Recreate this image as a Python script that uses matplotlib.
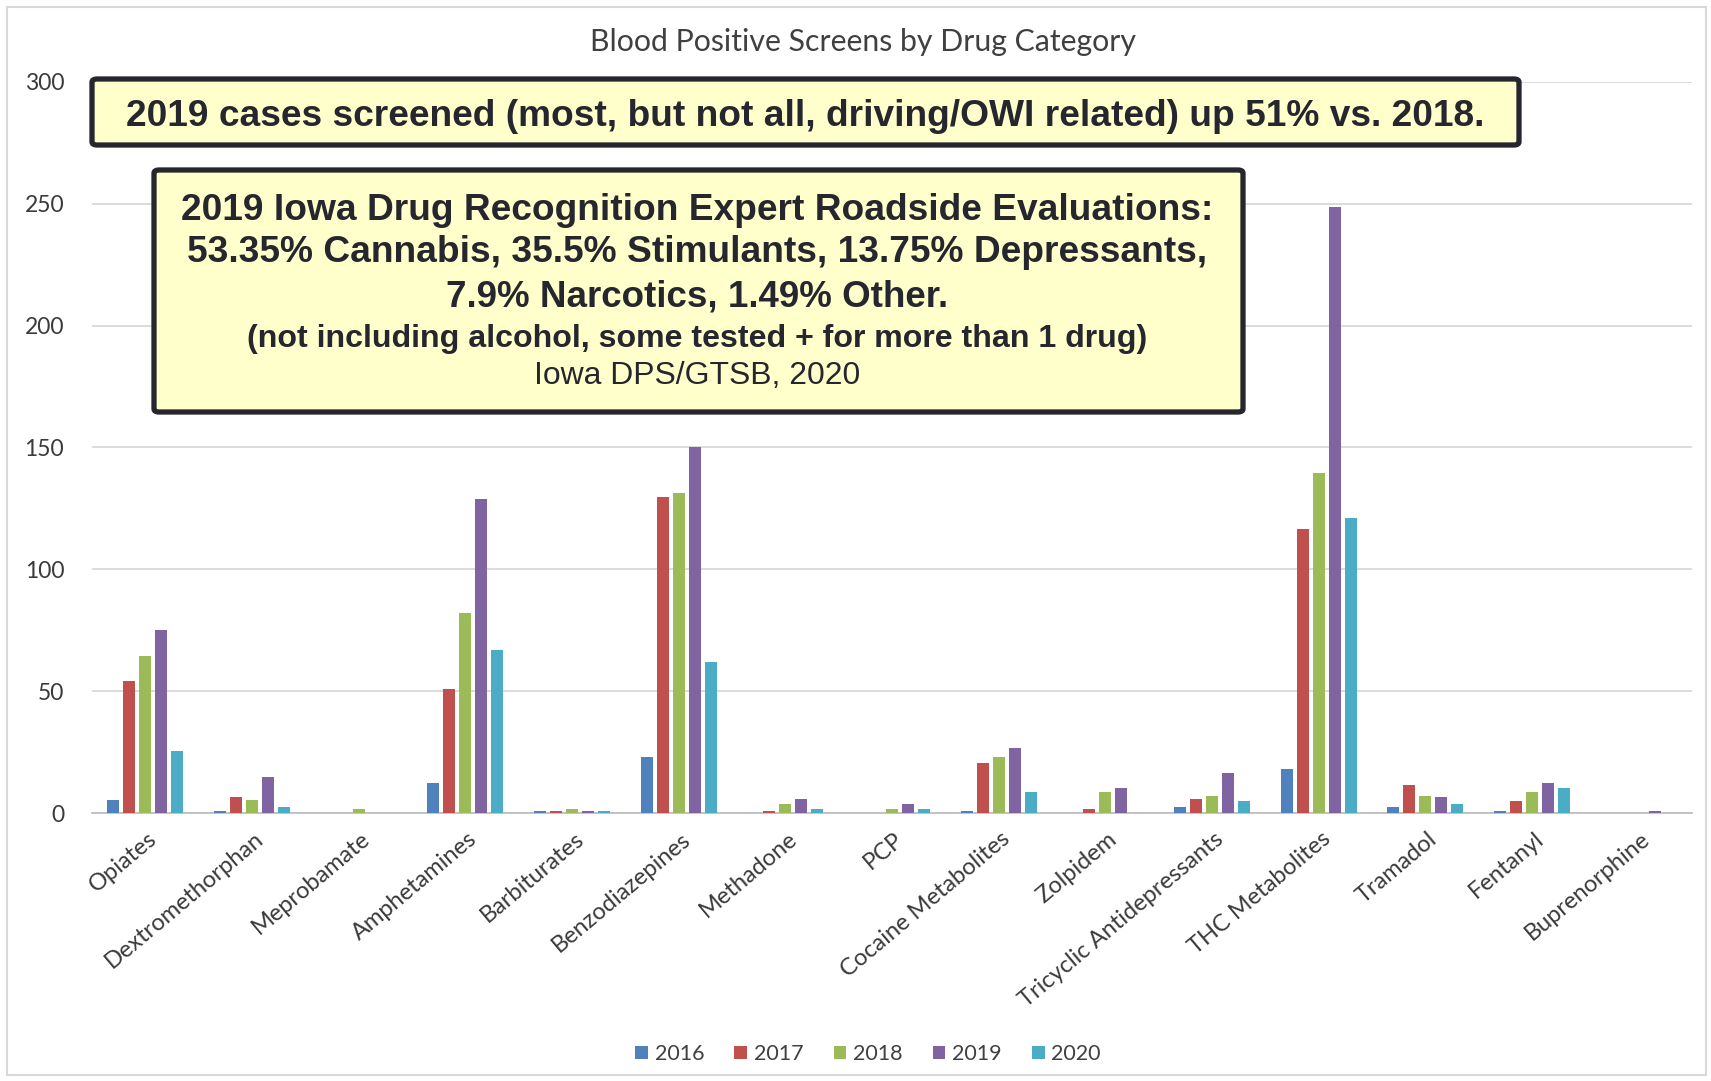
import matplotlib
matplotlib.use("Agg")
import matplotlib.pyplot as plt
from matplotlib.patches import FancyBboxPatch, Rectangle
import numpy as np

categories = ["Opiates", "Dextromethorphan", "Meprobamate", "Amphetamines", "Barbiturates",
              "Benzodiazepines", "Methadone", "PCP", "Cocaine Metabolites", "Zolpidem",
              "Tricyclic Antidepressants", "THC Metabolites", "Tramadol", "Fentanyl", "Buprenorphine"]
years = ["2016", "2017", "2018", "2019", "2020"]
v2016 = [5.3, 1, 0, 12.4, 1, 23, 0, 0, 1, 0, 2.3, 18, 2.3, 1, 0]
v2017 = [54, 6.7, 0, 51, 1, 129.5, 1, 0, 20.4, 1.5, 5.6, 116.5, 11.5, 5, 0]
v2018 = [64.5, 5.2, 1.5, 82, 1.5, 131.5, 3.7, 1.5, 23.1, 8.7, 7.1, 139.5, 7.1, 8.7, 0]
v2019 = [75, 14.9, 0, 129, 1, 150, 5.6, 3.7, 26.5, 10.1, 16.5, 248.5, 6.4, 12.2, 1]
v2020 = [25.3, 2.3, 0, 67, 1, 62, 1.5, 1.5, 8.7, 0, 5, 121, 3.8, 10.1, 0]
series = [v2016, v2017, v2018, v2019, v2020]
colors = ["#4F81BD", "#C0504D", "#9BBB59", "#8064A2", "#4BACC6"]
yticks = [0, 50, 100, 150, 200, 250, 300]

title = "Blood Positive Screens by Drug Category"
box1_text = "2019 cases screened (most, but not all, driving/OWI related) up 51% vs. 2018."
box2_lines = ["2019 Iowa Drug Recognition Expert Roadside Evaluations:",
              "53.35% Cannabis, 35.5% Stimulants, 13.75% Depressants,",
              "7.9% Narcotics, 1.49% Other.",
              "(not including alcohol, some tested + for more than 1 drug)",
              "Iowa DPS/GTSB, 2020"]

W, H = 1711, 1081
fig = plt.figure(figsize=(W / 100, H / 100), dpi=100)
fig.patch.set_facecolor("white")

def fx(x):
    return x / W

def fy(y):
    return 1 - y / H

ax_l, ax_r, ax_t, ax_b = 92, 1692, 82, 813
ax = fig.add_axes([fx(ax_l), fy(ax_b), fx(ax_r - ax_l), (ax_b - ax_t) / H])

x = np.arange(len(categories))
pitch = 0.15
bw = 0.115
for i, (vals, c, yr) in enumerate(zip(series, colors, years)):
    ax.bar(x + (i - 2) * pitch, vals, width=bw, color=c, label=yr, zorder=3)

ax.set_xlim(-0.5, len(categories) - 0.5)
ax.set_ylim(0, 300)
ax.set_yticks(yticks)
ax.yaxis.grid(True, color="#D9D9D9", linewidth=1.3, zorder=0)
ax.set_axisbelow(True)
for s in ["left", "right", "top"]:
    ax.spines[s].set_visible(False)
ax.spines["bottom"].set_color("#BFBFBF")
ax.spines["bottom"].set_linewidth(1.3)
ax.tick_params(axis="y", length=0, pad=20, labelsize=16.5, labelcolor="#3A3A3A")
ax.tick_params(axis="x", length=0, pad=11, labelsize=17, labelcolor="#3A3A3A")
for lab in ax.get_yticklabels():
    lab.set_fontfamily("Lato")
ax.set_xticks(x + 0.02)
ax.set_xticklabels(categories, rotation=40, ha="right", rotation_mode="anchor", family="Lato")
ax.set_facecolor("white")

# chart frame
fig.patches.append(Rectangle((fx(7), fy(1075)), fx(1706 - 7), (1075 - 7) / H,
                             transform=fig.transFigure, fill=False, edgecolor="#D9D9D9",
                             linewidth=1.5, zorder=0))

renderer = fig.canvas.get_renderer()

def fit(t, target_w):
    for _ in range(4):
        bb = t.get_window_extent(renderer)
        t.set_fontsize(t.get_fontsize() * target_w / bb.width)

# title
tt = fig.text(fx(863), fy(42), title, ha="center", va="center", color="#404040",
              family="Lato", fontsize=16)
fit(tt, 547)

def box(x0, y0, x1, y1):
    p = FancyBboxPatch((fx(x0), fy(y1)), fx(x1 - x0), (y1 - y0) / H,
                       boxstyle="round,pad=0,rounding_size=0.003",
                       transform=fig.transFigure, facecolor="#FFFFCC",
                       edgecolor="#26262E", linewidth=3.8, zorder=5)
    fig.patches.append(p)

box(92, 79, 1519, 145)
t1 = fig.text(fx(805), fy(116), box1_text, ha="center", va="center", color="#26262E",
              family="Liberation Sans", fontweight="bold", fontsize=20, zorder=6)
fit(t1, 1359)

box(154, 170, 1243, 412)
specs = [(210, 1032, "bold"), (253, 1020, "bold"), (297, 504, "bold"),
         (339, 899, "bold"), (376, 326, "normal")]
for line, (yc, w, wt) in zip(box2_lines, specs):
    t = fig.text(fx(697), fy(yc), line, ha="center", va="center", color="#26262E",
                 family="Liberation Sans", fontweight=wt, fontsize=20, zorder=6)
    fit(t, w)

leg = fig.legend(loc="center", bbox_to_anchor=(fx(868), fy(1054)), ncol=5, frameon=False,
                 handlelength=0.6, handleheight=0.6, handletextpad=0.3, columnspacing=1.4,
                 prop={"family": "Lato", "size": 15.5})
for t in leg.get_texts():
    t.set_color("#404040")

fig.savefig("out.png", dpi=100)
